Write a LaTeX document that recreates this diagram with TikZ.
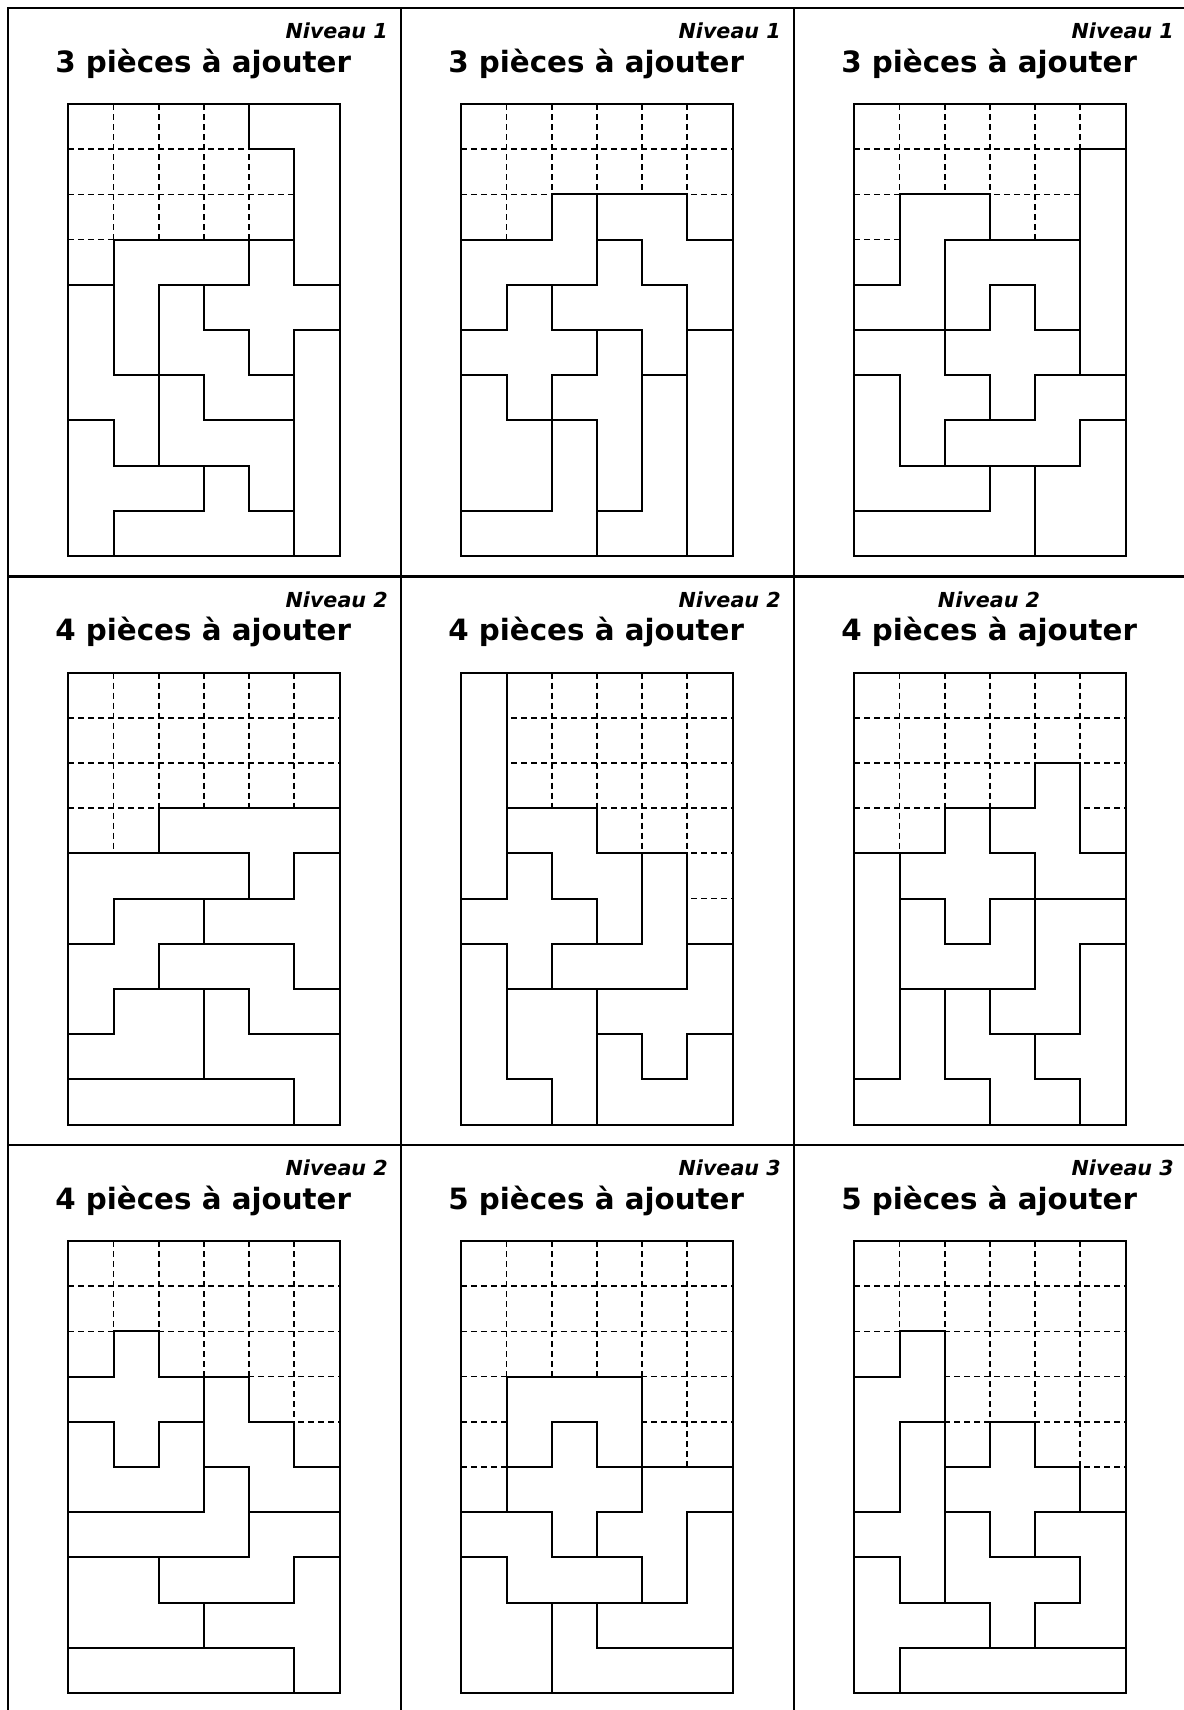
\documentclass[tikz,border=0pt]{standalone}
\usepackage{fontspec}
\setmainfont{DejaVu Sans}
\usepackage{tikz}

\begin{document}
\begin{tikzpicture}[
    x=0.75pt, y=-0.75pt,
    cadre/.style={line width=1.6pt},
    piece/.style={draw=black, fill=white, line width=1.5pt},
    vide/.style={line width=1.3pt, dash pattern=on 4.5pt off 3pt},
    bord/.style={line width=1.5pt},
    niveau/.style={anchor=base east, inner sep=0pt, font=\fontsize{15.5}{18}\selectfont\bfseries\itshape},
    titre/.style={anchor=base west, inner sep=0pt, font=\fontsize{22}{26}\selectfont\bfseries}
]
\useasboundingbox (0,0) rectangle (1184,1710);

% ==========================================
% CADRE : 3 x 3 CASES
% ==========================================
\foreach \c in {0,1,2} {
    \foreach \r in {0,1,2} {
        \draw[cadre] ({8+393*\c},{8+568.5*\r}) rectangle ++(393,568.5);
    }
}

% ==========================================
% TITRES
% ==========================================
\foreach \c/\r/\n/\k in {0/0/1/3, 1/0/1/3, 2/0/1/3, 0/1/2/4, 1/1/2/4, 0/2/2/4, 1/2/3/5, 2/2/3/5} {
    \node[niveau] (niv\c\r) at ({8+393*\c+380},{8+568.5*\r+30.5}) {Niveau \n};
    \node[titre] (nb\c\r) at ({8+393*\c+47},{8+568.5*\r+64}) {\k\ pièces à ajouter};
}
% case du milieu a droite : niveau centre
\node[niveau, anchor=base] (niv21) at ({8+393*2+195},{8+568.5+30.5}) {Niveau 2};
\node[titre] (nb21) at ({8+393*2+47},{8+568.5+64}) {4 pièces à ajouter};

% ==========================================
% GRILLE 1
% ==========================================
\begin{scope}[shift={(68.3,104)}, scale=45.2]
\foreach \i in {1,...,5} \draw[vide] (\i,0) -- (\i,10);
\foreach \j in {1,...,9} \draw[vide] (0,\j) -- (6,\j);
\draw[piece] (4,0) -- (6,0) -- (6,4) -- (5,4) -- (5,1) -- (4,1) -- cycle;
\draw[piece] (1,3) -- (4,3) -- (4,4) -- (2,4) -- (2,6) -- (1,6) -- cycle;
\draw[piece] (4,3) -- (5,3) -- (5,4) -- (6,4) -- (6,5) -- (5,5) -- (5,6) -- (4,6) -- (4,5) -- (3,5) -- (3,4) -- (4,4) -- cycle;
\draw[piece] (2,4) -- (3,4) -- (3,5) -- (4,5) -- (4,6) -- (5,6) -- (5,7) -- (3,7) -- (3,6) -- (2,6) -- cycle;
\draw[piece] (0,4) -- (1,4) -- (1,6) -- (2,6) -- (2,8) -- (1,8) -- (1,7) -- (0,7) -- cycle;
\draw[piece] (2,6) -- (3,6) -- (3,7) -- (5,7) -- (5,9) -- (4,9) -- (4,8) -- (2,8) -- cycle;
\draw[piece] (0,7) -- (1,7) -- (1,8) -- (3,8) -- (3,9) -- (1,9) -- (1,10) -- (0,10) -- cycle;
\draw[piece] (3,8) -- (4,8) -- (4,9) -- (5,9) -- (5,10) -- (1,10) -- (1,9) -- (3,9) -- cycle;
\draw[piece] (5,5) rectangle (6,10);
\draw[bord] (0,0) rectangle (6,10);
\end{scope}

% ==========================================
% GRILLE 2
% ==========================================
\begin{scope}[shift={(461.3,104)}, scale=45.2]
\foreach \i in {1,...,5} \draw[vide] (\i,0) -- (\i,10);
\foreach \j in {1,...,9} \draw[vide] (0,\j) -- (6,\j);
\draw[piece] (2,2) -- (3,2) -- (3,4) -- (1,4) -- (1,5) -- (0,5) -- (0,3) -- (2,3) -- cycle;
\draw[piece] (3,2) -- (5,2) -- (5,3) -- (6,3) -- (6,5) -- (5,5) -- (5,4) -- (4,4) -- (4,3) -- (3,3) -- cycle;
\draw[piece] (3,3) -- (4,3) -- (4,4) -- (5,4) -- (5,6) -- (4,6) -- (4,5) -- (2,5) -- (2,4) -- (3,4) -- cycle;
\draw[piece] (1,4) -- (2,4) -- (2,5) -- (3,5) -- (3,6) -- (2,6) -- (2,7) -- (1,7) -- (1,6) -- (0,6) -- (0,5) -- (1,5) -- cycle;
\draw[piece] (3,5) -- (4,5) -- (4,9) -- (3,9) -- (3,7) -- (2,7) -- (2,6) -- (3,6) -- cycle;
\draw[piece] (5,5) rectangle (6,10);
\draw[piece] (4,6) -- (5,6) -- (5,10) -- (3,10) -- (3,9) -- (4,9) -- cycle;
\draw[piece] (0,6) -- (1,6) -- (1,7) -- (2,7) -- (2,9) -- (0,9) -- cycle;
\draw[piece] (2,7) -- (3,7) -- (3,10) -- (0,10) -- (0,9) -- (2,9) -- cycle;
\draw[bord] (0,0) rectangle (6,10);
\end{scope}

% ==========================================
% GRILLE 3
% ==========================================
\begin{scope}[shift={(854.3,104)}, scale=45.2]
\foreach \i in {1,...,5} \draw[vide] (\i,0) -- (\i,10);
\foreach \j in {1,...,9} \draw[vide] (0,\j) -- (6,\j);
\draw[piece] (5,1) rectangle (6,6);
\draw[piece] (1,2) -- (3,2) -- (3,3) -- (2,3) -- (2,5) -- (0,5) -- (0,4) -- (1,4) -- cycle;
\draw[piece] (2,3) -- (5,3) -- (5,5) -- (4,5) -- (4,4) -- (3,4) -- (3,5) -- (2,5) -- cycle;
\draw[piece] (3,4) -- (4,4) -- (4,5) -- (5,5) -- (5,6) -- (4,6) -- (4,7) -- (3,7) -- (3,6) -- (2,6) -- (2,5) -- (3,5) -- cycle;
\draw[piece] (0,5) -- (2,5) -- (2,6) -- (3,6) -- (3,7) -- (2,7) -- (2,8) -- (1,8) -- (1,6) -- (0,6) -- cycle;
\draw[piece] (4,6) -- (6,6) -- (6,7) -- (5,7) -- (5,8) -- (2,8) -- (2,7) -- (4,7) -- cycle;
\draw[piece] (0,6) -- (1,6) -- (1,8) -- (3,8) -- (3,9) -- (0,9) -- cycle;
\draw[piece] (3,8) -- (4,8) -- (4,10) -- (0,10) -- (0,9) -- (3,9) -- cycle;
\draw[piece] (5,7) -- (6,7) -- (6,10) -- (4,10) -- (4,8) -- (5,8) -- cycle;
\draw[bord] (0,0) rectangle (6,10);
\end{scope}

% ==========================================
% GRILLE 4
% ==========================================
\begin{scope}[shift={(68.3,672.5)}, scale=45.2]
\foreach \i in {1,...,5} \draw[vide] (\i,0) -- (\i,10);
\foreach \j in {1,...,9} \draw[vide] (0,\j) -- (6,\j);
\draw[piece] (2,3) -- (6,3) -- (6,4) -- (5,4) -- (5,5) -- (4,5) -- (4,4) -- (2,4) -- cycle;
\draw[piece] (0,4) -- (4,4) -- (4,5) -- (1,5) -- (1,6) -- (0,6) -- cycle;
\draw[piece] (5,4) -- (6,4) -- (6,7) -- (5,7) -- (5,6) -- (3,6) -- (3,5) -- (5,5) -- cycle;
\draw[piece] (1,5) -- (3,5) -- (3,6) -- (2,6) -- (2,7) -- (1,7) -- (1,8) -- (0,8) -- (0,6) -- (1,6) -- cycle;
\draw[piece] (2,6) -- (5,6) -- (5,7) -- (6,7) -- (6,8) -- (4,8) -- (4,7) -- (2,7) -- cycle;
\draw[piece] (1,7) -- (3,7) -- (3,9) -- (0,9) -- (0,8) -- (1,8) -- cycle;
\draw[piece] (3,7) -- (4,7) -- (4,8) -- (6,8) -- (6,10) -- (5,10) -- (5,9) -- (3,9) -- cycle;
\draw[piece] (0,9) rectangle (5,10);
\draw[bord] (0,0) rectangle (6,10);
\end{scope}

% ==========================================
% GRILLE 5
% ==========================================
\begin{scope}[shift={(461.3,672.5)}, scale=45.2]
\foreach \i in {1,...,5} \draw[vide] (\i,0) -- (\i,10);
\foreach \j in {1,...,9} \draw[vide] (0,\j) -- (6,\j);
\draw[piece] (0,0) rectangle (1,5);
\draw[piece] (1,3) -- (3,3) -- (3,4) -- (4,4) -- (4,6) -- (3,6) -- (3,5) -- (2,5) -- (2,4) -- (1,4) -- cycle;
\draw[piece] (4,4) -- (5,4) -- (5,7) -- (2,7) -- (2,6) -- (4,6) -- cycle;
\draw[piece] (1,4) -- (2,4) -- (2,5) -- (3,5) -- (3,6) -- (2,6) -- (2,7) -- (1,7) -- (1,6) -- (0,6) -- (0,5) -- (1,5) -- cycle;
\draw[piece] (5,6) -- (6,6) -- (6,8) -- (5,8) -- (5,9) -- (4,9) -- (4,8) -- (3,8) -- (3,7) -- (5,7) -- cycle;
\draw[piece] (0,6) -- (1,6) -- (1,9) -- (2,9) -- (2,10) -- (0,10) -- cycle;
\draw[piece] (1,7) -- (3,7) -- (3,10) -- (2,10) -- (2,9) -- (1,9) -- cycle;
\draw[piece] (3,8) -- (4,8) -- (4,9) -- (5,9) -- (5,8) -- (6,8) -- (6,10) -- (3,10) -- cycle;
\draw[bord] (0,0) rectangle (6,10);
\end{scope}

% ==========================================
% GRILLE 6
% ==========================================
\begin{scope}[shift={(854.3,672.5)}, scale=45.2]
\foreach \i in {1,...,5} \draw[vide] (\i,0) -- (\i,10);
\foreach \j in {1,...,9} \draw[vide] (0,\j) -- (6,\j);
\draw[piece] (4,2) -- (5,2) -- (5,4) -- (6,4) -- (6,5) -- (4,5) -- (4,4) -- (3,4) -- (3,3) -- (4,3) -- cycle;
\draw[piece] (2,3) -- (3,3) -- (3,4) -- (4,4) -- (4,5) -- (3,5) -- (3,6) -- (2,6) -- (2,5) -- (1,5) -- (1,4) -- (2,4) -- cycle;
\draw[piece] (0,4) rectangle (1,9);
\draw[piece] (1,5) -- (2,5) -- (2,6) -- (3,6) -- (3,5) -- (4,5) -- (4,7) -- (1,7) -- cycle;
\draw[piece] (4,5) -- (6,5) -- (6,6) -- (5,6) -- (5,8) -- (3,8) -- (3,7) -- (4,7) -- cycle;
\draw[piece] (5,6) -- (6,6) -- (6,10) -- (5,10) -- (5,9) -- (4,9) -- (4,8) -- (5,8) -- cycle;
\draw[piece] (1,7) -- (2,7) -- (2,9) -- (3,9) -- (3,10) -- (0,10) -- (0,9) -- (1,9) -- cycle;
\draw[piece] (2,7) -- (3,7) -- (3,8) -- (4,8) -- (4,9) -- (5,9) -- (5,10) -- (3,10) -- (3,9) -- (2,9) -- cycle;
\draw[bord] (0,0) rectangle (6,10);
\end{scope}

% ==========================================
% GRILLE 7
% ==========================================
\begin{scope}[shift={(68.3,1241)}, scale=45.2]
\foreach \i in {1,...,5} \draw[vide] (\i,0) -- (\i,10);
\foreach \j in {1,...,9} \draw[vide] (0,\j) -- (6,\j);
\draw[piece] (1,2) -- (2,2) -- (2,3) -- (3,3) -- (3,4) -- (2,4) -- (2,5) -- (1,5) -- (1,4) -- (0,4) -- (0,3) -- (1,3) -- cycle;
\draw[piece] (3,3) -- (4,3) -- (4,4) -- (5,4) -- (5,5) -- (6,5) -- (6,6) -- (4,6) -- (4,5) -- (3,5) -- cycle;
\draw[piece] (0,4) -- (1,4) -- (1,5) -- (2,5) -- (2,4) -- (3,4) -- (3,6) -- (0,6) -- cycle;
\draw[piece] (3,5) -- (4,5) -- (4,7) -- (0,7) -- (0,6) -- (3,6) -- cycle;
\draw[piece] (4,6) -- (6,6) -- (6,7) -- (5,7) -- (5,8) -- (2,8) -- (2,7) -- (4,7) -- cycle;
\draw[piece] (0,7) -- (2,7) -- (2,8) -- (3,8) -- (3,9) -- (0,9) -- cycle;
\draw[piece] (5,7) -- (6,7) -- (6,10) -- (5,10) -- (5,9) -- (3,9) -- (3,8) -- (5,8) -- cycle;
\draw[piece] (0,9) rectangle (5,10);
\draw[bord] (0,0) rectangle (6,10);
\end{scope}

% ==========================================
% GRILLE 8
% ==========================================
\begin{scope}[shift={(461.3,1241)}, scale=45.2]
\foreach \i in {1,...,5} \draw[vide] (\i,0) -- (\i,10);
\foreach \j in {1,...,9} \draw[vide] (0,\j) -- (6,\j);
\draw[piece] (1,3) -- (4,3) -- (4,5) -- (3,5) -- (3,4) -- (2,4) -- (2,5) -- (1,5) -- cycle;
\draw[piece] (2,4) -- (3,4) -- (3,5) -- (4,5) -- (4,6) -- (3,6) -- (3,7) -- (2,7) -- (2,6) -- (1,6) -- (1,5) -- (2,5) -- cycle;
\draw[piece] (4,5) -- (6,5) -- (6,6) -- (5,6) -- (5,8) -- (4,8) -- (4,7) -- (3,7) -- (3,6) -- (4,6) -- cycle;
\draw[piece] (0,6) -- (2,6) -- (2,7) -- (4,7) -- (4,8) -- (1,8) -- (1,7) -- (0,7) -- cycle;
\draw[piece] (5,6) -- (6,6) -- (6,9) -- (3,9) -- (3,8) -- (5,8) -- cycle;
\draw[piece] (0,7) -- (1,7) -- (1,8) -- (2,8) -- (2,10) -- (0,10) -- cycle;
\draw[piece] (2,8) -- (3,8) -- (3,9) -- (6,9) -- (6,10) -- (2,10) -- cycle;
\draw[bord] (0,0) rectangle (6,10);
\end{scope}

% ==========================================
% GRILLE 9
% ==========================================
\begin{scope}[shift={(854.3,1241)}, scale=45.2]
\foreach \i in {1,...,5} \draw[vide] (\i,0) -- (\i,10);
\foreach \j in {1,...,9} \draw[vide] (0,\j) -- (6,\j);
\draw[piece] (1,2) -- (2,2) -- (2,4) -- (1,4) -- (1,6) -- (0,6) -- (0,3) -- (1,3) -- cycle;
\draw[piece] (1,4) -- (2,4) -- (2,8) -- (1,8) -- (1,7) -- (0,7) -- (0,6) -- (1,6) -- cycle;
\draw[piece] (3,4) -- (4,4) -- (4,5) -- (5,5) -- (5,6) -- (4,6) -- (4,7) -- (3,7) -- (3,6) -- (2,6) -- (2,5) -- (3,5) -- cycle;
\draw[piece] (2,6) -- (3,6) -- (3,7) -- (5,7) -- (5,8) -- (4,8) -- (4,9) -- (3,9) -- (3,8) -- (2,8) -- cycle;
\draw[piece] (4,6) -- (6,6) -- (6,9) -- (4,9) -- (4,8) -- (5,8) -- (5,7) -- (4,7) -- cycle;
\draw[piece] (0,7) -- (1,7) -- (1,8) -- (3,8) -- (3,9) -- (1,9) -- (1,10) -- (0,10) -- cycle;
\draw[piece] (1,9) rectangle (6,10);
\draw[bord] (0,0) rectangle (6,10);
\end{scope}

\end{tikzpicture}
\end{document}
